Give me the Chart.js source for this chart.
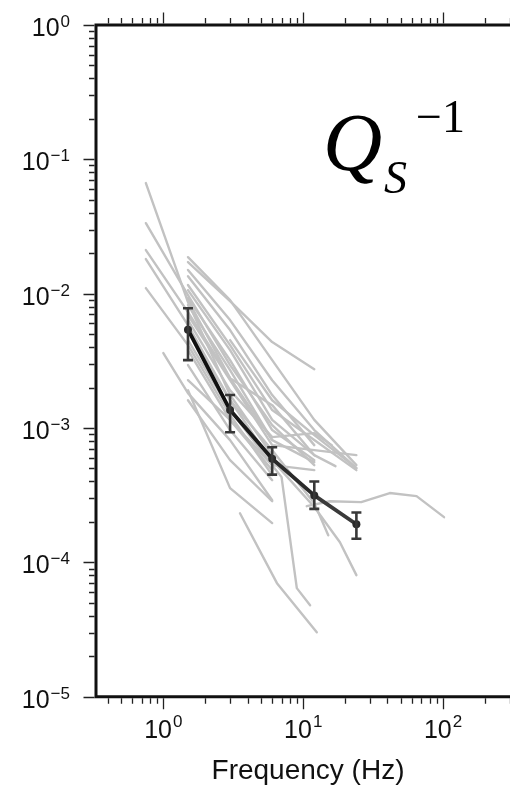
<!DOCTYPE html>
<html><head><meta charset="utf-8">
<script src="https://cdn.jsdelivr.net/npm/chart.js@4/dist/chart.umd.min.js"></script>
<style>
html,body{margin:0;padding:0;background:#fff;overflow:hidden;width:510px;height:789px}
#wrap{position:absolute;left:0;top:0;width:560px;height:789px}
</style>
</head><body><div id="wrap"><canvas id="c" width="560" height="789"></canvas></div>
<script>
// ---- data ----
const meanFreq = [1.5, 3, 6, 12, 24];
const meanQ = [0.0054, 0.00136, 0.00059, 0.000315, 0.000192];
const meanErrHigh = [0.0078, 0.00176, 0.00072, 0.00040, 0.000235];
const meanErrLow = [0.0032, 0.00093, 0.00045, 0.00025, 0.00015];

const stationFreq = [
  [0.75, 1.5, 3, 6],
  [0.75, 1.5, 3, 6, 12],
  [0.75, 1.5, 3, 6],
  [0.75, 1.5, 3, 6],
  [0.75, 1.5, 3, 6],
  [1.0, 1.5, 3, 6],
  [1.5, 3, 6, 12, 24],
  [1.5, 3, 6, 12],
  [1.5, 3, 6, 12, 24],
  [1.5, 3, 6, 12],
  [1.5, 3, 6, 12, 24],
  [1.5, 3, 6, 12],
  [1.5, 3, 6, 12],
  [1.5, 3, 6, 12],
  [1.5, 3, 6, 12, 24],
  [1.5, 3, 6, 12, 16],
  [1.5, 3, 6],
  [1.5, 3, 6, 12],
  [1.5, 3, 6],
  [1.5, 3, 6],
  [1.5, 3, 6, 7, 9, 11.2],
  [1.5, 3, 6],
  [1.5, 3, 6],
  [3.53, 6.49, 12.5],
  [10.6, 15.5, 26, 41.6, 64.6, 101.6],
  [6, 12, 15.1],
  [6, 12, 18.3, 24],
  [3, 6, 12, 24],
  [1.5, 3, 6, 12, 17]
];
const stationQ = [
  [0.0666, 0.00866, 0.00176, 0.000628],
  [0.0335, 0.00976, 0.00294, 0.00105, 0.000529],
  [0.0211, 0.00729, 0.00235, 0.000813],
  [0.0181, 0.00584, 0.00161, 0.000557],
  [0.0110, 0.00414, 0.00125, 0.000446],
  [0.00361, 0.00182, 0.000813, 0.000290],
  [0.0187, 0.00896, 0.00320, 0.00115, 0.000529],
  [0.0172, 0.00881, 0.00436, 0.00274],
  [0.0150, 0.00636, 0.00227, 0.000965, 0.000503],
  [0.0135, 0.00536, 0.00176, 0.000746],
  [0.0116, 0.00414, 0.00136, 0.000813, 0.000486],
  [0.01063, 0.00380, 0.00115, 0.000628],
  [0.00927, 0.00320, 0.000965, 0.000577],
  [0.00823, 0.00270, 0.000813, 0.000557],
  [0.00693, 0.00227, 0.000746, 0.000684, 0.000628],
  [0.00636, 0.00191, 0.000856, 0.000916, 0.000746],
  [0.00536, 0.00161, 0.000684],
  [0.00451, 0.00136, 0.000529, 0.000486],
  [0.00380, 0.00115, 0.000486],
  [0.00294, 0.000965, 0.000409],
  [0.00227, 0.00115, 0.000529, 0.000431, 0.0000643, 0.0000480],
  [0.00191, 0.000357, 0.000196],
  [0.00161, 0.000577, 0.000285],
  [0.000232, 0.0000700, 0.0000302],
  [0.000262, 0.000285, 0.000281, 0.000328, 0.000311, 0.000217],
  [0.000684, 0.000276, 0.000159],
  [0.000577, 0.000258, 0.000141, 0.0000803],
  [0.00451, 0.00161, 0.000885, 0.000503],
  [0.00896, 0.00235, 0.00148, 0.000628, 0.000520]
];

const xRange = [0.33, 400];
const yRange = [1e-5, 1];
const xTickExponents = [0, 1, 2];
const yTickExponents = [0, -1, -2, -3, -4, -5];
const xAxisTitle = 'Frequency (Hz)';
const panelLabel = {base: 'Q', sub: 'S', sup: '\u22121'};

// ---- styles ----
const grayColor = '#c2c2c2';
const meanSegColors = ['#101010', '#1a1a1a', '#2a2a2a', '#3a3a3a'];
const errColor = '#383838';
const axisColor = '#111';
const labelFont = '"Liberation Sans", Arial, sans-serif';
const serifFont = '"Liberation Serif", "Times New Roman", serif';

const datasets = [{
  data: meanFreq.map((f, i) => ({x: f, y: meanQ[i]})),
  borderColor: '#151515',
  borderWidth: 3.8,
  pointRadius: 4,
  pointBackgroundColor: '#2a2a2a',
  pointBorderWidth: 0,
  order: 0,
  segment: {borderColor: ctx => meanSegColors[ctx.p0DataIndex]}
}].concat(stationFreq.map((fs, i) => ({
  data: fs.map((f, j) => ({x: f, y: stationQ[i][j]})),
  borderColor: grayColor,
  borderWidth: 2.4,
  pointRadius: 0,
  order: 1
})));

function logTicks(min, max) {
  const out = [];
  for (let e = Math.floor(Math.log10(min)); e <= Math.ceil(Math.log10(max)); e++) {
    for (let m = 1; m <= 9; m++) {
      const v = m * Math.pow(10, e);
      if (v >= min * 0.9999 && v <= max * 1.0001) out.push({v, major: m === 1});
    }
  }
  return out;
}

function drawPow(ctx, exp, x, y, align, baseSize, supSize, supRise) {
  const baseTxt = '10';
  const supTxt = exp < 0 ? '\u2212' + Math.abs(exp) : String(exp);
  ctx.font = baseSize + 'px ' + labelFont;
  const wb = ctx.measureText(baseTxt).width;
  ctx.font = supSize + 'px ' + labelFont;
  const ws = ctx.measureText(supTxt).width;
  const total = wb + 1 + ws;
  let x0 = align === 'right' ? x - total : x - total / 2;
  ctx.textAlign = 'left';
  ctx.textBaseline = 'alphabetic';
  ctx.font = baseSize + 'px ' + labelFont;
  ctx.fillText(baseTxt, x0, y);
  ctx.font = supSize + 'px ' + labelFont;
  ctx.fillText(supTxt, x0 + wb + 1, y - supRise);
}

const decorPlugin = {
  id: 'decor',
  afterDatasetsDraw(chart) {
    const ctx = chart.ctx;
    const xs = chart.scales.x, ys = chart.scales.y;
    // error bars
    ctx.save();
    ctx.strokeStyle = errColor;
    ctx.lineWidth = 2.6;
    meanFreq.forEach((f, i) => {
      const px = xs.getPixelForValue(f);
      const pHi = ys.getPixelForValue(meanErrHigh[i]);
      const pLo = ys.getPixelForValue(meanErrLow[i]);
      ctx.beginPath();
      ctx.moveTo(px, pHi); ctx.lineTo(px, pLo);
      ctx.moveTo(px - 5, pHi); ctx.lineTo(px + 5, pHi);
      ctx.moveTo(px - 5, pLo); ctx.lineTo(px + 5, pLo);
      ctx.stroke();
    });
    ctx.restore();
  },
  afterDraw(chart) {
    const ctx = chart.ctx;
    const {left, right, top, bottom} = chart.chartArea;
    const xs = chart.scales.x, ys = chart.scales.y;
    ctx.save();
    // frame
    ctx.strokeStyle = axisColor;
    ctx.lineWidth = 3;
    ctx.lineJoin = 'miter';
    ctx.beginPath();
    ctx.moveTo(right, top); ctx.lineTo(left, top); ctx.lineTo(left, bottom); ctx.lineTo(right, bottom);
    ctx.stroke();
    // ticks
    ctx.lineWidth = 1.3;
    ctx.strokeStyle = '#222';
    ctx.beginPath();
    logTicks(xRange[0], xRange[1]).forEach(t => {
      const px = Math.round(xs.getPixelForValue(t.v)) + 0.5;
      const len = t.major ? 12.5 : 7;
      ctx.moveTo(px, bottom + 1.5); ctx.lineTo(px, bottom + len);
      ctx.moveTo(px, top - 1.5); ctx.lineTo(px, top - len);
    });
    logTicks(yRange[0], yRange[1]).forEach(t => {
      const py = Math.round(ys.getPixelForValue(t.v)) + 0.5;
      const len = t.major ? 12.5 : 7;
      ctx.moveTo(left - 1.5, py); ctx.lineTo(left - len, py);
    });
    ctx.stroke();
    // tick labels
    ctx.fillStyle = axisColor;
    yTickExponents.forEach(e => {
      const py = ys.getPixelForValue(Math.pow(10, e));
      drawPow(ctx, e, 70, py + 11, 'right', 25, 17, 9);
    });
    xTickExponents.forEach(e => {
      const px = xs.getPixelForValue(Math.pow(10, e));
      drawPow(ctx, e, px, 738, 'center', 25, 17, 11);
    });
    // axis title
    ctx.font = '28px ' + labelFont;
    ctx.textAlign = 'center';
    ctx.textBaseline = 'alphabetic';
    ctx.fillText(xAxisTitle, 308, 779);
    // panel label Q_S^-1
    ctx.textAlign = 'left';
    ctx.fillStyle = '#000';
    ctx.font = 'italic 82px ' + serifFont;
    ctx.fillText(panelLabel.base, 323, 170);
    ctx.font = 'italic 46px ' + serifFont;
    ctx.fillText(panelLabel.sub, 384, 193);
    ctx.font = '46px ' + serifFont;
    ctx.fillText(panelLabel.sup, 416, 132);
    ctx.restore();
  }
};

new Chart(document.getElementById('c'), {
  type: 'line',
  data: {datasets},
  options: {
    responsive: false,
    devicePixelRatio: 1,
    animation: false,
    layout: {padding: {left: 96, top: 25, right: 32.7, bottom: 92.3}},
    plugins: {legend: {display: false}, tooltip: {enabled: false}},
    elements: {line: {tension: 0, borderCapStyle: 'round', borderJoinStyle: 'round'}},
    scales: {
      x: {type: 'logarithmic', min: xRange[0], max: xRange[1], display: false, bounds: 'data'},
      y: {type: 'logarithmic', min: yRange[0], max: yRange[1], display: false, bounds: 'data'}
    }
  },
  plugins: [decorPlugin]
});
</script>
</body></html>
